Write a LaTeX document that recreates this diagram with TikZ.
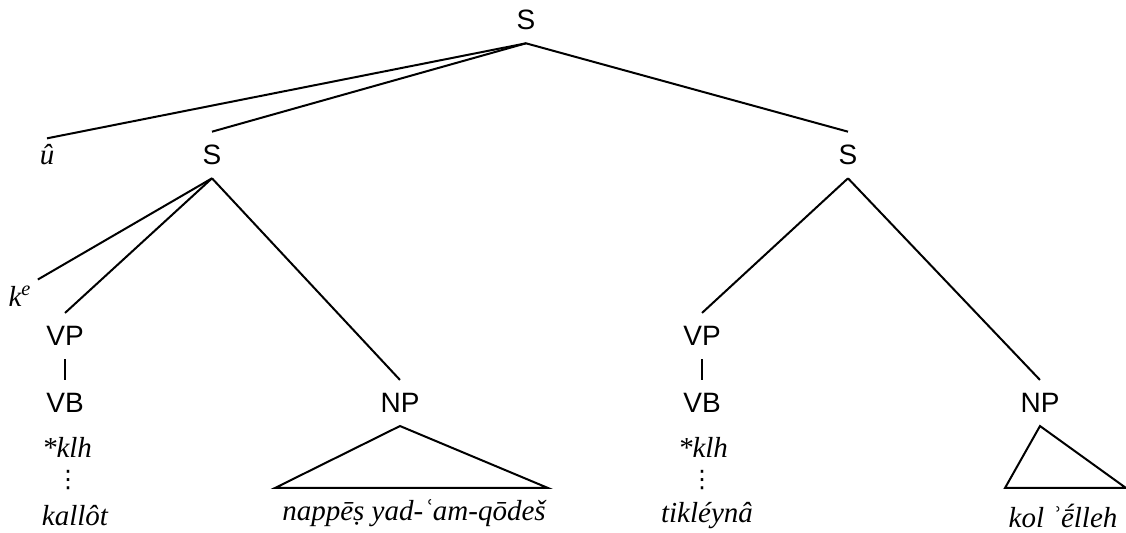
\documentclass[tikz,border=0pt]{standalone}
\usepackage{fontspec}
\setmainfont{Liberation Serif}
\setsansfont{Liberation Sans}
\newfontfamily\dotsfont{DejaVu Sans}
\begin{document}
\begin{tikzpicture}[
        x=0.5pt, y=-0.5pt,
        cat/.style={font=\sffamily\fontsize{14}{16}\selectfont, inner sep=6.5pt},
        word/.style={font=\itshape\fontsize{14.5}{17}\selectfont, inner sep=3pt},
        gap/.style={font=\dotsfont\fontsize{12}{12}\selectfont, inner sep=0pt},
        branch/.style={line width=1pt}
    ]
        \useasboundingbox (0, 0) rectangle (1126, 533);
        \node[cat] (s) at (526, 20) {S};
        \node[word] (u) at (47, 155) {û};
        \node[cat] (sl) at (212, 155) {S};
        \node[cat] (sr) at (848, 155) {S};
        \draw[branch] (s.south) -- (u.north);
        \draw[branch] (s.south) -- (sl.north);
        \draw[branch] (s.south) -- (sr.north);

        \node[word] (ke) at (20, 296) {k\textsuperscript{e}};
        \node[cat] (vpl) at (65, 336) {VP};
        \node[cat] (vbl) at (65, 403) {VB};
        \node[word] (klhl) at (67, 447) {*klh};
        \node[gap] (dotsl) at (68, 480) {⋮};
        \node[word] (kallot) at (75, 516) {kallôt};
        \node[cat] (npl) at (400, 403) {NP};
        \node[word] (nappes) at (414, 513) {nappēṣ yad-ʿam-qōdeš};
        \coordinate (npla) at (275, 488);
        \coordinate (nplb) at (548, 488);
        \draw[branch] (sl.south) -- (ke.north east);
        \draw[branch] (sl.south) -- (vpl.north);
        \draw[branch] (sl.south) -- (npl.north);
        \draw[branch] (vpl.south) -- (vbl.north);
        \draw[branch] (npl.south) -- (npla) -- (nplb) -- cycle;

        \node[cat] (vpr) at (702, 336) {VP};
        \node[cat] (vbr) at (702, 403) {VB};
        \node[word] (klhr) at (703, 447) {*klh};
        \node[gap] (dotsr) at (702, 480) {⋮};
        \node[word] (tikleyna) at (707, 516) {tikléynâ};
        \node[cat] (npr) at (1040, 403) {NP};
        \node[word] (kol) at (1063, 516) {kol ʾḗlleh};
        \coordinate (npra) at (1005, 488);
        \coordinate (nprb) at (1126, 488);
        \draw[branch] (sr.south) -- (vpr.north);
        \draw[branch] (sr.south) -- (npr.north);
        \draw[branch] (vpr.south) -- (vbr.north);
        \draw[branch] (npr.south) -- (npra) -- (nprb) -- cycle;
\end{tikzpicture}
\end{document}
